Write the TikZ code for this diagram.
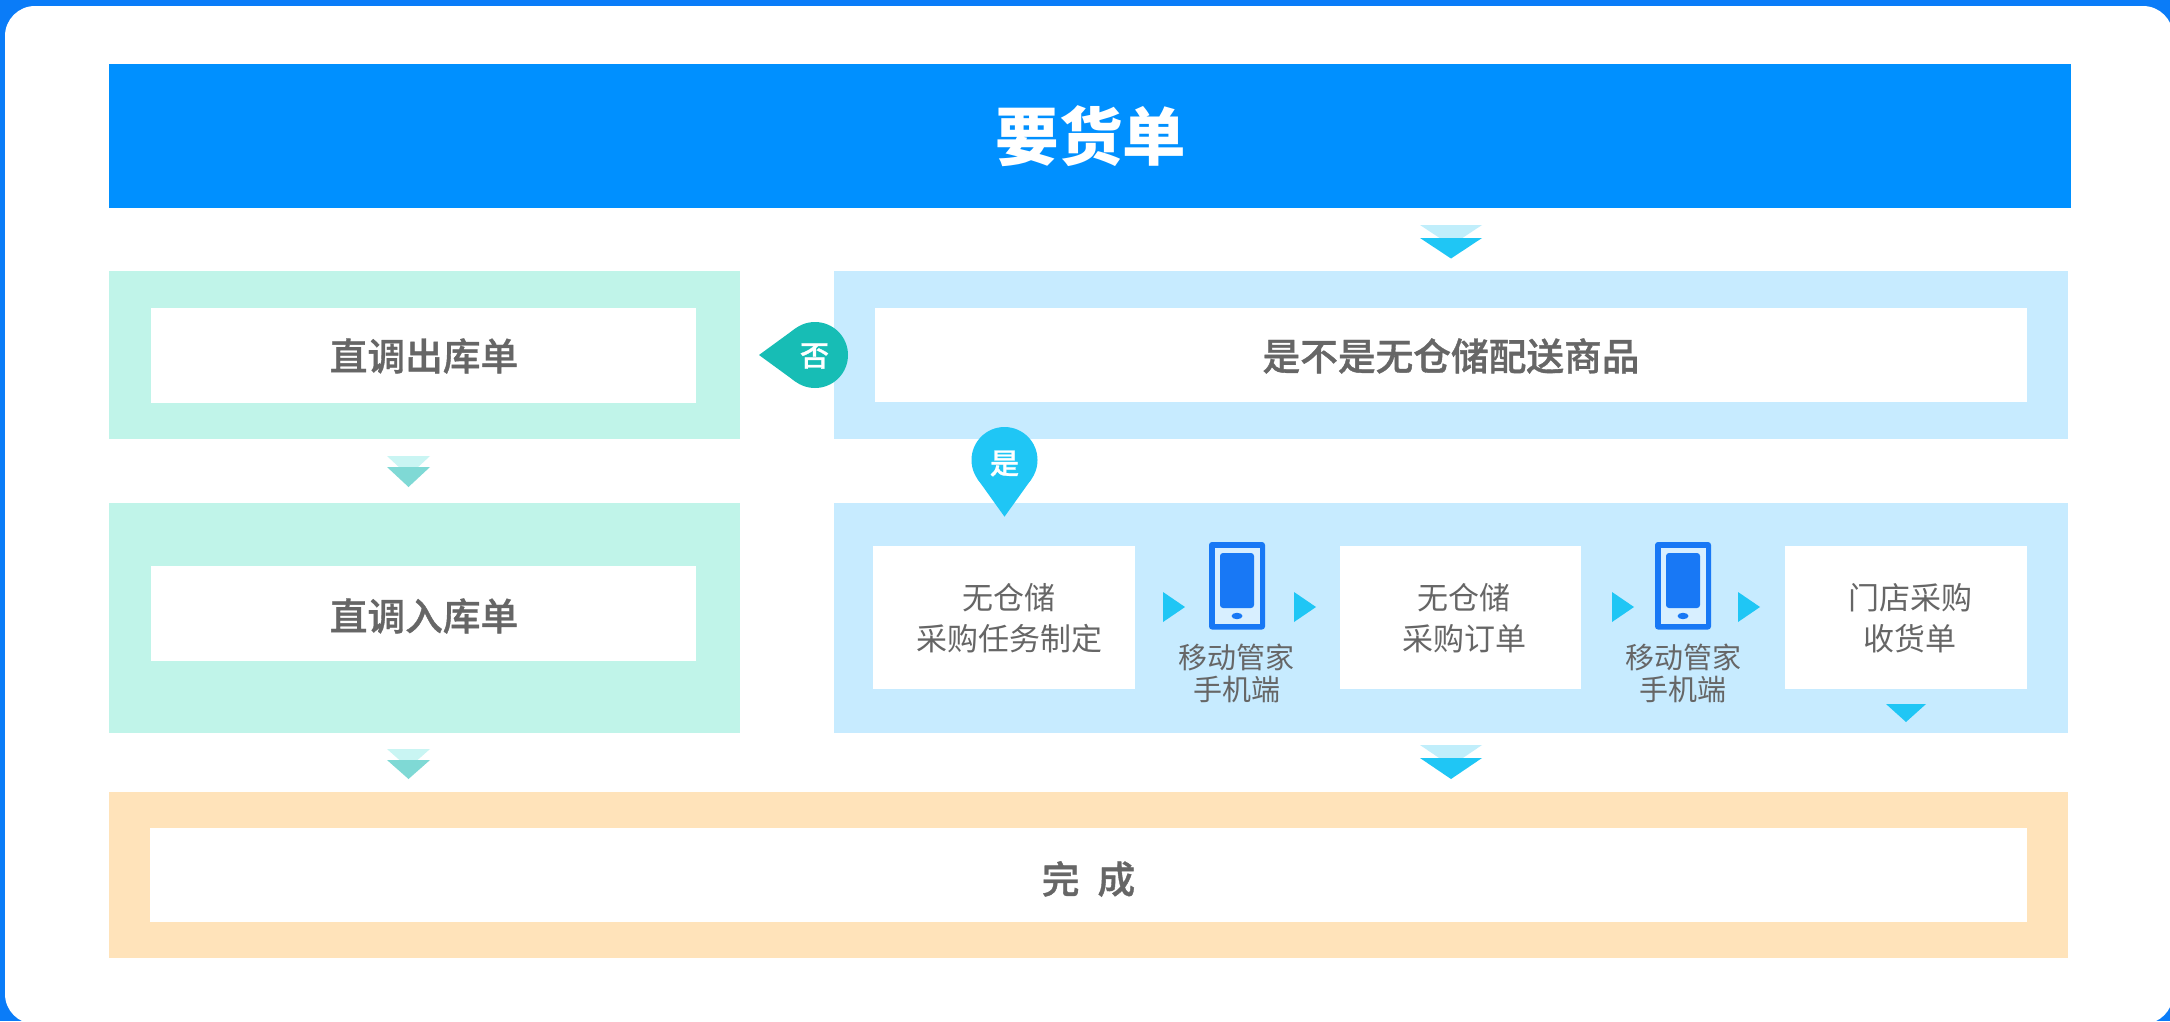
\documentclass[tikz,border=0pt]{standalone}
\usepackage{fontspec}
\usetikzlibrary{calc}
\setmainfont{Noto Sans CJK SC}
\newfontfamily\cjkmed[RawFeature={embolden=1.0}]{Noto Sans CJK SC Medium}
\definecolor{bgblue}{HTML}{0A7CF8}
\definecolor{barblue}{HTML}{0090FF}
\definecolor{mint}{HTML}{C0F4E9}
\definecolor{sky}{HTML}{C7EBFF}
\definecolor{sand}{HTML}{FFE3BA}
\definecolor{txt}{HTML}{666666}
\definecolor{cyanD}{HTML}{1FC6F5}
\definecolor{cyanL}{HTML}{C0EEFB}
\definecolor{tealD}{HTML}{7FD9D5}
\definecolor{tealL}{HTML}{C9F5F3}
\definecolor{pinT}{HTML}{17BDB5}
\definecolor{phone}{HTML}{1878F5}
\definecolor{phoneIn}{HTML}{D8EFFF}
\tikzset{
  card/.style={fill=white,inner sep=0pt,outer sep=0pt},
  headtext/.style={text=txt,font=\fontsize{37.7}{40}\selectfont\cjkmed},
  bodytext/.style={text=txt,align=center,font=\fontsize{31}{41}\selectfont},
  phonetext/.style={text=txt,align=center,font=\fontsize{29}{32}\selectfont},
  pintext/.style={text=white,font=\fontsize{29}{30}\selectfont\cjkmed},
  tri/.style={fill=cyanD,draw=none},
}
% \chevron{x-left}{x-right}{y-top}{y-mid}{y-bottom}{light}{dark}
\newcommand{\chevron}[7]{%
  \fill[#6] (#1,#3) -- (#2,#3) -- ({#2-(#4-#3)*(#2-#1)/(2*(#5-#4))},#4) -- ({#1+(#4-#3)*(#2-#1)/(2*(#5-#4))},#4) -- cycle;
  \fill[#7] (#1,#4) -- (#2,#4) -- ({(#1+#2)/2},#5) -- cycle;
}
\newcommand{\phoneicon}[1]{%
  \fill[phone,rounded corners=3pt] ({#1-28},542) rectangle ({#1+28},629.5);
  \fill[phoneIn] ({#1-22},548) rectangle ({#1+23},624);
  \fill[phone,rounded corners=3pt] ({#1-17},553) rectangle ({#1+17},608);
  \fill[phone] (#1,616) ellipse (5.5 and 3.2);
}
\begin{document}
\begin{tikzpicture}[x=1pt,y=-1pt]
\clip (0,0) rectangle (2170,1021);
\fill[bgblue] (0,0) rectangle (2170,1021);
\fill[white,rounded corners=30pt] (5,6) rectangle (2173,1024);
% top bar
\node[fill=barblue,inner sep=0pt,outer sep=0pt,minimum width=1962pt,minimum height=144pt] (top) at (1090,136) {};
\node[text=white,font=\fontsize{63.5}{66}\selectfont\bfseries] (topt) at (1091,136) {要货单};
% panels
\node[fill=mint,inner sep=0pt,minimum width=631pt,minimum height=168pt] (g1) at (424.5,355) {};
\node[fill=sky,inner sep=0pt,minimum width=1234pt,minimum height=168pt] (b1) at (1451,355) {};
\node[fill=mint,inner sep=0pt,minimum width=631pt,minimum height=230pt] (g2) at (424.5,618) {};
\node[fill=sky,inner sep=0pt,minimum width=1234pt,minimum height=230pt] (b2) at (1451,618) {};
\node[fill=sand,inner sep=0pt,minimum width=1959pt,minimum height=166pt] (o) at (1088.5,875) {};
% cards
\node[card,minimum width=545pt,minimum height=95pt] (g1c) at (423.5,355) {};
\node[headtext] (g1t) at (424,356) {直调出库单};
\node[card,minimum width=1152pt,minimum height=94pt] (b1c) at (1451,355) {};
\node[headtext] (b1t) at (1451,356) {是不是无仓储配送商品};
\node[card,minimum width=545pt,minimum height=95pt] (g2c) at (423.5,613.5) {};
\node[headtext] (g2t) at (424,616) {直调入库单};
\node[card,minimum width=262pt,minimum height=143pt] (ca) at (1004,617.5) {};
\node[bodytext] (cat) at (1009,618.5) {无仓储\\采购任务制定};
\node[card,minimum width=241.5pt,minimum height=143pt] (cb) at (1460.7,617.5) {};
\node[bodytext] (cbt) at (1464,618.5) {无仓储\\采购订单};
\node[card,minimum width=242pt,minimum height=143pt] (cc) at (1906,617.5) {};
\node[bodytext] (cct) at (1910,618.5) {门店采购\\收货单};
\node[card,minimum width=1877pt,minimum height=94pt] (oc) at (1088.5,875) {};
\node[headtext] (ot) at (1088.5,879) {完\hspace{18pt}成};
% phones
\phoneicon{1237}
\phoneicon{1683}
\node[phonetext] (p1) at (1236.5,673) {移动管家\\手机端};
\node[phonetext] (p2) at (1683,673) {移动管家\\手机端};
% small triangles
\fill[tri] (1163,592) -- (1185,607) -- (1163,622) -- cycle;
\fill[tri] (1294,592) -- (1316,607) -- (1294,622) -- cycle;
\fill[tri] (1612,592) -- (1634,607) -- (1612,622) -- cycle;
\fill[tri] (1738,592) -- (1760,607) -- (1738,622) -- cycle;
\fill[tri] (1886,704) -- (1926,704) -- (1906,722) -- cycle;
% chevrons
\chevron{1420}{1482}{225}{238}{258.5}{cyanL}{cyanD}
\chevron{1420}{1482}{745}{758}{779}{cyanL}{cyanD}
\chevron{387}{430}{456}{467}{487}{tealL}{tealD}
\chevron{387}{430}{749}{760}{779}{tealL}{tealD}
% pins
\fill[pinT] (815,355) circle (33);
\fill[pinT] (759,355) -- ($(815,355)+(126.1:33)$) -- ($(815,355)+(-126.1:33)$) -- cycle;
\node[pintext] (no) at (814.5,356) {否};
\fill[cyanD] (1004.5,460) circle (33);
\fill[cyanD] (1004.5,516.7) -- ($(1004.5,460)+(35.6:33)$) -- ($(1004.5,460)+(144.4:33)$) -- cycle;
\node[pintext] (yes) at (1004.5,463.5) {是};
\end{tikzpicture}
\end{document}
